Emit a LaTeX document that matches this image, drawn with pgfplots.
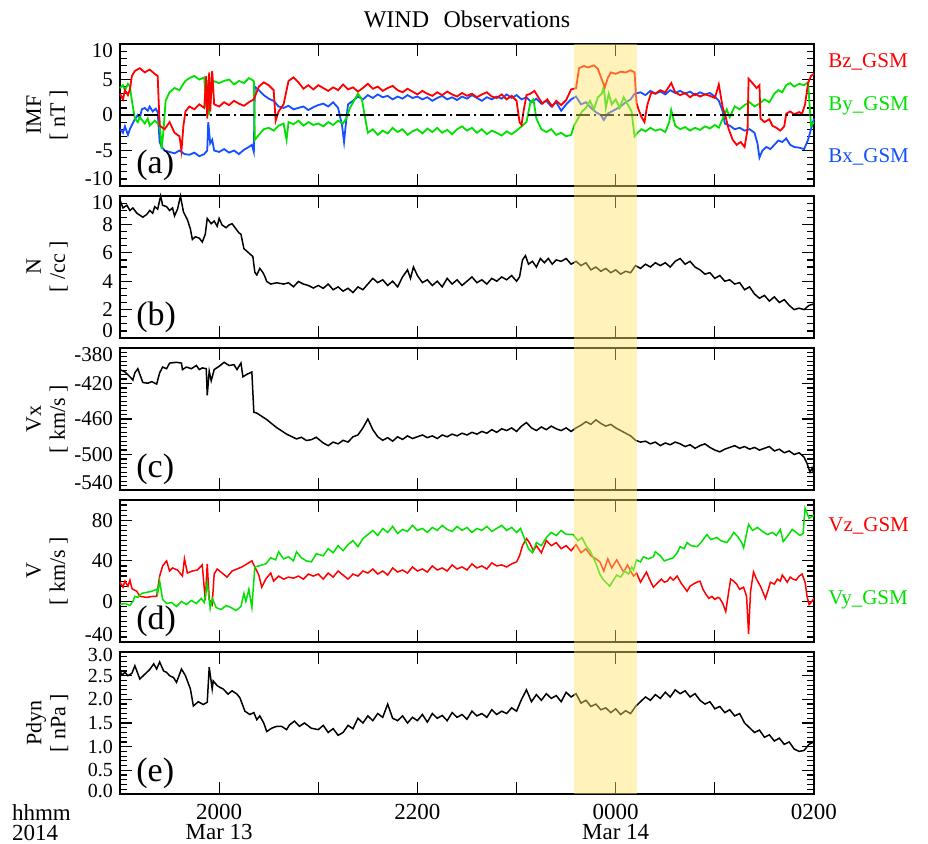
\documentclass[border=0pt]{standalone}
\usepackage{fontspec}
\setmainfont{Liberation Serif}
\usepackage{pgfplots}
\pgfplotsset{compat=1.18}
\definecolor{cred}{RGB}{255,0,0}
\definecolor{cgreen}{RGB}{0,225,0}
\definecolor{cblue}{RGB}{20,80,255}
\definecolor{bandcol}{RGB}{255,226,105}
\newcommand{\up}[1]{\raisebox{3.5pt}[\height][\depth]{#1}}
\newcommand{\dn}[1]{\raisebox{-3.5pt}[\height][\depth]{#1}}
\newcommand{\upe}[1]{\raisebox{1.5pt}[\height][\depth]{#1}}
\newcommand{\dne}[1]{\raisebox{-1.5pt}[\height][\depth]{#1}}
\pgfplotsset{
  panel/.style={
    scale only axis, width=347pt, height=71pt,
    xmin=19, xmax=26,
    xtick={19,...,26}, xticklabels={},
    major tick length=6pt, minor tick length=3.5pt,
    every tick/.style={black, line width=0.6pt},
    axis line style={line width=0.9pt},
    tick label style={font=\fontsize{10.5}{10.5}\selectfont},
    ylabel style={at={(axis description cs:-0.105,0.5)}, anchor=center, align=center, font=\fontsize{11}{12}\selectfont},
    anchor=north west,
    clip=false,
    every axis plot/.append style={line width=0.75pt},
  },
}
\tikzset{
  plab/.style={anchor=south west, font=\fontsize{17}{17}\selectfont, inner sep=0pt, xshift=8pt, yshift=2.5pt},
  rlab/.style={anchor=west, font=\fontsize{10.5}{10.5}\selectfont, inner sep=0pt, xshift=7pt},
}
\begin{document}
\begin{tikzpicture}
\useasboundingbox (-60pt,22pt) rectangle (404pt,-399.5pt);
% ---------------- (a) IMF
\begin{axis}[panel, at={(0pt,0pt)}, ymin=-10, ymax=10, ytick={-10,-5,0,5,10}, yticklabels={{\up{-10}},-5,0,5,{\dn{10}}}, minor y tick num=4, ylabel={IMF\\{[} nT ]}, every axis plot/.append style={line width=0.9pt}]
\addplot[cblue] coordinates {
(19.00,-2.0)(19.03,-2.5)(19.05,-1.6)(19.08,-2.8)(19.10,-2.0)(19.12,-1.4)(19.15,-0.6)(19.18,0.0)(19.20,-0.4)(19.22,0.8)(19.25,1.0)(19.28,0.6)(19.30,1.2)(19.33,0.5)(19.36,0.9)(19.38,0.4)(19.40,-3.8)(19.42,-4.5)(19.45,-5.0)(19.50,-5.2)(19.55,-5.4)(19.60,-5.0)(19.65,-5.5)(19.70,-5.6)(19.75,-5.3)(19.80,-5.8)(19.85,-5.5)(19.88,-5.0)(19.89,-1.0)(19.91,-4.0)(19.93,-3.5)(19.95,-5.0)(20.00,-5.2)(20.05,-4.8)(20.10,-5.3)(20.15,-5.0)(20.20,-5.5)(20.25,-4.9)(20.30,-4.5)(20.33,-4.2)(20.35,-5.2)(20.36,4.0)(20.40,3.5)(20.45,2.8)(20.50,2.3)(20.55,2.0)(20.60,1.2)(20.65,1.0)(20.70,1.3)(20.75,0.8)(20.80,1.0)(20.85,1.2)(20.90,0.7)(20.95,1.1)(21.00,1.4)
(21.05,1.6)(21.10,1.2)(21.15,1.8)(21.20,1.0)(21.24,-1.5)(21.26,-3.8)(21.28,-1.0)(21.30,1.5)(21.35,2.0)(21.40,2.6)(21.45,2.2)(21.50,2.8)(21.55,2.4)(21.60,2.9)(21.65,2.5)(21.70,2.7)(21.75,2.2)(21.80,2.6)(21.85,2.3)(21.90,2.8)(21.95,2.4)(22.00,2.6)(22.05,2.2)(22.10,2.5)(22.15,2.0)(22.20,2.4)(22.25,2.7)(22.30,2.2)(22.35,2.5)(22.40,2.1)(22.45,2.6)(22.50,2.3)(22.55,2.8)(22.60,2.4)(22.65,2.0)(22.70,2.5)(22.75,2.2)(22.80,2.6)(22.85,2.3)(22.90,2.9)(22.95,2.4)(23.00,2.8)(23.05,2.2)(23.10,2.5)(23.15,1.8)(23.20,2.3)(23.25,1.6)(23.30,2.0)(23.35,1.2)(23.40,1.8)(23.45,0.6)(23.50,1.5)(23.55,2.2)(23.60,2.6)(23.65,1.5)(23.70,1.8)(23.75,1.0)(23.80,0.4)(23.85,0.0)(23.88,-0.7)(23.92,0.2)(23.96,0.5)(24.00,0.8)(24.05,1.2)(24.10,1.8)(24.15,2.2)(24.19,3.0)(24.25,3.2)(24.30,2.8)(24.35,3.4)(24.40,3.0)(24.45,3.3)(24.50,2.9)(24.55,3.5)(24.60,3.1)(24.65,3.4)(24.70,3.0)(24.75,3.3)(24.80,2.8)(24.85,3.2)(24.90,2.9)(24.95,3.1)(25.00,2.6)(25.04,2.0)(25.08,0.5)(25.10,-1.2)(25.15,-1.5)(25.20,-2.0)(25.25,-1.8)(25.30,-2.2)(25.35,-2.0)(25.40,-2.5)(25.43,-4.0)(25.45,-6.0)(25.48,-5.0)(25.52,-4.5)(25.56,-4.8)(25.60,-4.2)(25.64,-3.6)(25.68,-3.8)(25.72,-3.3)(25.76,-4.2)(25.80,-4.5)(25.85,-4.6)(25.90,-4.8)(25.94,-3.5)(25.97,-2.0)(26.00,-0.5)
};
\addplot[cgreen] coordinates {
(19.00,3.8)(19.03,4.2)(19.05,3.5)(19.08,4.4)(19.10,4.0)(19.12,2.0)(19.15,-0.5)(19.18,-1.0)(19.20,-0.3)(19.25,-1.2)(19.28,-0.5)(19.30,-1.5)(19.35,-0.8)(19.38,-1.2)(19.40,-1.0)(19.42,-4.8)(19.44,-2.0)(19.46,2.0)(19.50,3.2)(19.55,3.8)(19.60,3.5)(19.63,4.2)(19.66,4.8)(19.70,5.2)(19.75,5.5)(19.80,5.0)(19.85,5.3)(19.87,1.0)(19.89,4.5)(19.90,0.0)(19.92,3.0)(19.94,4.8)(20.00,4.5)(20.05,4.8)(20.10,5.0)(20.15,4.3)(20.20,4.8)(20.25,4.5)(20.30,5.2)(20.35,4.8)(20.36,-3.5)(20.40,-2.8)(20.45,-2.0)(20.50,-1.8)(20.55,-2.2)(20.60,-1.5)(20.65,-1.2)(20.68,-3.5)(20.70,-1.0)(20.75,-1.3)(20.80,-0.8)(20.85,-1.5)(20.90,-1.0)(20.95,-1.4)(21.00,-1.2)
(21.05,-1.6)(21.10,-1.0)(21.15,-1.4)(21.20,-0.8)(21.25,-1.2)(21.28,-0.5)(21.32,1.0)(21.36,2.0)(21.40,3.0)(21.44,2.2)(21.48,-1.0)(21.50,-2.5)(21.55,-2.0)(21.60,-2.8)(21.65,-2.2)(21.70,-2.6)(21.75,-1.8)(21.80,-2.4)(21.85,-2.0)(21.90,-2.8)(21.95,-2.3)(22.00,-2.0)(22.05,-2.6)(22.10,-1.9)(22.15,-2.4)(22.20,-1.8)(22.25,-2.5)(22.30,-2.1)(22.35,-2.7)(22.40,-2.0)(22.45,-1.6)(22.50,-2.2)(22.55,-1.8)(22.60,-2.5)(22.65,-2.0)(22.70,-2.7)(22.75,-2.2)(22.80,-2.5)(22.85,-2.9)(22.90,-2.3)(22.95,-2.7)(23.00,-2.2)(23.05,-1.6)(23.10,-1.0)(23.14,1.8)(23.17,2.2)(23.20,-0.5)(23.25,-2.0)(23.30,-2.4)(23.35,-2.0)(23.40,-2.8)(23.45,-2.5)(23.50,-3.0)(23.55,-2.8)(23.58,-1.5)(23.62,-0.5)(23.66,0.5)(23.70,1.0)(23.74,2.0)(23.78,0.8)(23.82,2.5)(23.86,3.0)(23.88,4.0)(23.90,1.0)(23.93,3.0)(23.96,1.5)(24.00,2.2)(24.04,1.0)(24.08,2.5)(24.12,1.5)(24.16,0.5)(24.19,-3.0)(24.22,-2.5)(24.26,-2.0)(24.30,-2.3)(24.35,-1.8)(24.40,-2.2)(24.45,-2.0)(24.50,-2.4)(24.54,-1.0)(24.56,0.7)(24.60,-1.5)(24.65,-2.0)(24.70,-1.7)(24.75,-2.2)(24.80,-1.8)(24.85,-2.1)(24.90,-1.6)(24.95,-1.9)(25.00,-1.4)(25.04,-1.8)(25.08,-0.5)(25.12,0.8)(25.15,-0.3)(25.20,1.2)(25.25,0.8)(25.30,1.4)(25.35,1.8)(25.40,1.2)(25.45,1.6)(25.50,2.2)(25.55,1.8)(25.60,3.0)(25.64,3.5)(25.68,3.2)(25.72,4.2)(25.76,4.5)(25.80,4.0)(25.85,4.4)(25.90,4.2)(25.94,4.6)(25.97,-1.5)(26.00,-1.0)
};
\addplot[cred] coordinates {
(19.00,3.0)(19.03,2.2)(19.05,3.5)(19.08,2.8)(19.10,3.6)(19.12,5.5)(19.15,6.2)(19.20,6.6)(19.25,6.0)(19.30,6.4)(19.35,5.8)(19.38,5.5)(19.40,-1.5)(19.45,-2.0)(19.50,-1.0)(19.55,-2.5)(19.60,-3.0)(19.62,-5.0)(19.64,-1.5)(19.66,0.5)(19.70,1.2)(19.75,0.8)(19.80,1.5)(19.85,1.0)(19.87,5.5)(19.88,-0.5)(19.90,6.0)(19.91,0.5)(19.93,6.2)(19.95,1.5)(20.00,1.2)(20.05,1.8)(20.10,1.4)(20.15,2.0)(20.20,1.6)(20.25,1.3)(20.30,1.8)(20.35,2.2)(20.40,4.0)(20.45,4.6)(20.50,4.2)(20.55,3.5)(20.57,-0.8)(20.60,0.5)(20.65,1.5)(20.70,4.8)(20.75,5.3)(20.80,4.6)(20.85,3.7)(20.90,4.2)(20.95,3.6)(21.00,4.2)(21.05,3.8)(21.10,3.4)(21.15,3.9)(21.20,3.5)
(21.25,4.3)(21.30,3.6)(21.35,3.9)(21.40,3.3)(21.45,3.8)(21.50,4.4)(21.55,3.7)(21.60,4.0)(21.65,3.4)(21.70,3.8)(21.75,4.1)(21.80,3.5)(21.85,3.2)(21.90,3.7)(21.95,3.3)(22.00,2.9)(22.05,3.4)(22.10,3.0)(22.15,2.7)(22.20,3.2)(22.25,2.8)(22.30,3.3)(22.35,2.9)(22.40,2.6)(22.45,3.1)(22.50,2.7)(22.55,3.0)(22.60,2.5)(22.65,2.9)(22.70,3.2)(22.75,2.6)(22.80,2.4)(22.85,2.9)(22.90,2.2)(22.95,2.7)(23.00,2.0)(23.03,-1.0)(23.05,-1.4)(23.07,0.5)(23.10,2.8)(23.14,3.0)(23.18,3.4)(23.22,2.5)(23.26,1.6)(23.31,2.2)(23.36,1.2)(23.40,2.0)(23.45,1.4)(23.50,2.1)(23.55,3.6)(23.60,3.8)(23.63,6.6)(23.68,6.9)(23.72,6.7)(23.78,7.0)(23.82,6.5)(23.86,5.0)(23.89,3.9)(23.92,5.2)(23.95,6.0)(24.00,5.8)(24.05,6.1)(24.10,6.0)(24.15,6.3)(24.19,6.0)(24.21,1.7)(24.23,0.8)(24.26,-0.3)(24.29,-1.0)(24.32,1.5)(24.36,3.2)(24.40,3.0)(24.45,3.5)(24.50,3.2)(24.56,4.5)(24.60,3.2)(24.65,2.8)(24.70,3.1)(24.75,2.5)(24.80,3.0)(24.85,2.6)(24.90,2.9)(24.95,2.7)(25.00,2.4)(25.04,4.3)(25.08,1.0)(25.10,0.2)(25.14,-2.0)(25.18,-3.5)(25.22,-4.2)(25.26,-3.8)(25.30,-4.5)(25.33,-2.0)(25.34,5.1)(25.38,4.5)(25.42,3.8)(25.45,4.2)(25.46,-0.5)(25.50,-1.0)(25.55,-0.6)(25.58,-1.5)(25.62,-1.8)(25.66,-2.2)(25.70,-1.6)(25.72,0.2)(25.76,0.5)(25.80,0.1)(25.85,0.4)(25.88,0.2)(25.91,1.5)(25.94,4.5)(25.97,5.5)(26.00,5.8)
};
\addplot[black, line width=0.7pt, dash pattern=on 7pt off 2pt on 1pt off 2pt] coordinates {(19,0)(26,0)};
\coordinate (bandtl) at (axis cs:23.58,10);
\node[anchor=base, font=\fontsize{12}{12}\selectfont] at (rel axis cs:0.5,1) [yshift=8.5pt] {WIND\hspace{0.6em}Observations};
\node[plab] at (rel axis cs:0,0) {(a)};
\node[rlab, text=cred] at (rel axis cs:1,0.873) {Bz\_GSM};
\node[rlab, text=cgreen] at (rel axis cs:1,0.563) {By\_GSM};
\node[rlab, text=cblue] at (rel axis cs:1,0.204) {Bx\_GSM};
\end{axis}
% ---------------- (b) N
\begin{axis}[panel, at={(0pt,-76pt)}, ymin=0, ymax=10, ytick={0,2,4,6,8,10}, yticklabels={{\up{0}},2,4,6,8,{\dn{10}}}, minor y tick num=3, ylabel={N\\{[} /cc ]}]
\addplot[black] coordinates {
(19.00,9.72)(19.03,9.16)(19.07,9.35)(19.10,8.98)(19.13,9.16)(19.17,8.79)(19.23,8.51)(19.27,8.70)(19.30,8.98)(19.33,8.79)(19.35,9.25)(19.38,9.07)(19.41,10.0)(19.43,9.35)(19.47,9.25)(19.50,8.98)(19.53,9.16)(19.55,8.60)(19.58,9.07)(19.61,10.0)(19.64,8.88)(19.68,8.33)(19.71,7.68)(19.73,6.94)(19.76,7.13)(19.80,7.03)(19.83,6.76)(19.86,7.31)(19.88,8.42)(19.92,8.05)(19.95,8.24)(19.98,7.87)(20.00,8.42)(20.03,7.96)(20.07,7.77)(20.10,7.96)(20.13,8.05)(20.17,7.68)(20.20,7.40)(20.22,7.31)(20.25,6.29)(20.28,6.11)(20.31,5.92)(20.34,5.74)(20.36,4.63)(20.38,4.44)(20.41,4.90)(20.44,4.63)(20.46,4.35)(20.48,3.98)(20.52,3.80)(20.58,3.89)(20.65,3.80)(20.70,3.89)(20.75,3.61)(20.80,3.98)(20.85,3.80)(20.90,3.70)(20.95,3.52)(21.00,3.7)
(21.05,3.5)(21.10,3.8)(21.15,3.4)(21.20,3.6)(21.25,3.3)(21.30,3.5)(21.35,3.2)(21.40,3.6)(21.45,3.4)(21.50,3.8)(21.55,4.2)(21.60,3.9)(21.65,4.1)(21.70,3.7)(21.75,4.0)(21.80,3.6)(21.85,4.3)(21.90,4.8)(21.93,4.2)(21.96,5.0)(22.00,4.4)(22.05,3.9)(22.10,4.1)(22.15,3.7)(22.20,4.0)(22.25,3.6)(22.30,4.2)(22.35,3.8)(22.40,4.1)(22.45,3.7)(22.50,4.0)(22.55,4.3)(22.60,3.9)(22.65,4.1)(22.70,3.8)(22.75,4.2)(22.80,4.0)(22.85,4.3)(22.90,4.1)(22.95,4.4)(23.00,4.0)(23.03,4.3)(23.06,5.5)(23.09,5.8)(23.12,5.2)(23.16,5.4)(23.20,5.0)(23.24,5.6)(23.28,5.3)(23.32,5.6)(23.36,5.2)(23.40,5.5)(23.45,5.4)(23.50,5.6)(23.55,5.2)(23.60,5.4)(23.65,5.1)(23.70,5.3)(23.75,4.8)(23.80,5.0)(23.85,4.7)(23.90,4.9)(23.95,4.6)(24.00,4.8)(24.05,4.5)(24.10,4.7)(24.15,4.6)(24.20,5.1)(24.25,4.9)(24.30,5.2)(24.35,5.0)(24.40,5.3)(24.45,5.1)(24.50,5.3)(24.55,5.0)(24.60,5.4)(24.65,5.6)(24.70,5.2)(24.75,5.4)(24.80,5.0)(24.85,4.8)(24.90,4.5)(24.95,4.6)(25.00,4.2)(25.05,4.4)(25.10,4.0)(25.15,4.1)(25.20,3.8)(25.25,3.9)(25.30,3.4)(25.35,3.6)(25.40,3.1)(25.45,2.8)(25.50,3.0)(25.55,2.6)(25.60,2.9)(25.65,2.5)(25.70,2.7)(25.75,2.3)(25.80,2.0)(25.85,2.1)(25.90,2.0)(25.95,2.3)(26.00,2.4)
};
\node[plab] at (rel axis cs:0,0) {(b)};
\end{axis}
% ---------------- (c) Vx
\begin{axis}[panel, at={(0pt,-152pt)}, ymin=-540, ymax=-380, ytick={-540,-500,-460,-420,-380}, yticklabels={{\up{-540}},-500,-460,-420,{\dn{-380}}}, minor y tick num=7, ylabel={Vx\\{[} km/s ]}]
\addplot[black] coordinates {
(19.00,-404.3)(19.05,-407.0)(19.10,-412.4)(19.13,-416.1)(19.15,-407.9)(19.18,-403.3)(19.20,-409.7)(19.23,-418.8)(19.28,-419.7)(19.32,-417.9)(19.37,-420.6)(19.40,-407.9)(19.43,-401.5)(19.47,-403.3)(19.50,-397.0)(19.57,-396.1)(19.62,-397.0)(19.63,-404.3)(19.67,-401.5)(19.72,-403.3)(19.77,-399.7)(19.80,-404.3)(19.83,-402.4)(19.87,-403.3)(19.88,-433.3)(19.90,-406.1)(19.92,-417.0)(19.95,-404.3)(20.00,-400.6)(20.05,-396.1)(20.10,-399.7)(20.15,-398.8)(20.18,-404.3)(20.22,-397.0)(20.24,-412.4)(20.28,-409.7)(20.33,-407.0)(20.35,-452.4)(20.38,-453.3)(20.43,-457.0)(20.48,-460.6)(20.53,-465.2)(20.58,-469.7)(20.63,-473.3)(20.68,-477.0)(20.73,-479.7)(20.78,-482.4)(20.83,-480.6)(20.88,-484.2)(20.93,-483.3)(20.98,-480.6)
(21.05,-487)(21.10,-490)(21.15,-486)(21.20,-488)(21.25,-484)(21.30,-486)(21.35,-480)(21.40,-478)(21.45,-470)(21.50,-460)(21.55,-472)(21.60,-480)(21.65,-484)(21.70,-481)(21.75,-485)(21.80,-480)(21.85,-483)(21.90,-479)(21.95,-482)(22.00,-480)(22.05,-478)(22.10,-481)(22.15,-479)(22.20,-482)(22.25,-478)(22.30,-480)(22.35,-477)(22.40,-479)(22.45,-476)(22.50,-478)(22.55,-475)(22.60,-477)(22.65,-474)(22.70,-476)(22.75,-472)(22.80,-475)(22.85,-471)(22.90,-473)(22.95,-470)(23.00,-474)(23.05,-468)(23.10,-464)(23.15,-470)(23.20,-473)(23.25,-469)(23.30,-472)(23.35,-468)(23.40,-471)(23.45,-473)(23.50,-470)(23.55,-474)(23.60,-470)(23.65,-467)(23.70,-463)(23.75,-466)(23.80,-461)(23.85,-465)(23.90,-468)(23.95,-466)(24.00,-470)(24.05,-473)(24.10,-476)(24.15,-479)(24.20,-484)(24.25,-486)(24.30,-485)(24.35,-488)(24.40,-486)(24.45,-490)(24.50,-487)(24.55,-489)(24.60,-486)(24.65,-488)(24.70,-491)(24.75,-489)(24.80,-493)(24.85,-490)(24.90,-488)(24.95,-492)(25.00,-495)(25.05,-497)(25.10,-494)(25.15,-492)(25.20,-490)(25.25,-493)(25.30,-491)(25.35,-494)(25.40,-492)(25.45,-495)(25.50,-493)(25.55,-491)(25.60,-496)(25.65,-494)(25.70,-498)(25.75,-496)(25.80,-500)(25.85,-498)(25.90,-503)(25.93,-510)(25.96,-520)(25.98,-515)(26.00,-523)
};
\node[plab] at (rel axis cs:0,0) {(c)};
\end{axis}
% ---------------- (d) V
\begin{axis}[panel, at={(0pt,-228pt)}, ymin=-40, ymax=100, ytick={-40,0,40,80}, yticklabels={{\up{-40}},0,40,80}, minor ytick={-35,-30,...,100}, ylabel={V\\{[} km/s ]}]
\addplot[cred] coordinates {
(19.00,19)(19.03,14)(19.05,20)(19.08,15)(19.10,21)(19.12,13)(19.13,12)(19.17,10)(19.20,5)(19.27,4)(19.33,5)(19.37,5)(19.40,25)(19.43,35)(19.47,40)(19.50,30)(19.53,33)(19.58,31)(19.63,25)(19.65,42)(19.68,28)(19.73,30)(19.78,31)(19.83,36)(19.86,1)(19.88,37)(19.90,2)(19.93,-3)(19.95,27)(19.98,32)(20.03,28)(20.08,24)(20.13,30)(20.18,32)(20.23,34)(20.28,37)(20.33,40)(20.36,34)(20.40,26)(20.43,14)(20.47,22)(20.52,28)(20.55,20)(20.60,25)(20.65,22)(20.70,24)(20.75,23)(20.80,25)(20.85,22)(20.90,27)(20.95,25)(21.00,27)
(21.05,22)(21.10,28)(21.15,24)(21.20,30)(21.25,26)(21.30,22)(21.35,27)(21.40,25)(21.45,30)(21.50,28)(21.55,32)(21.60,27)(21.65,30)(21.70,26)(21.75,33)(21.80,29)(21.85,31)(21.90,28)(21.95,34)(22.00,30)(22.05,32)(22.10,29)(22.15,35)(22.20,31)(22.25,33)(22.30,30)(22.35,36)(22.40,32)(22.45,34)(22.50,31)(22.55,37)(22.60,33)(22.65,35)(22.70,32)(22.75,38)(22.80,35)(22.85,36)(22.90,34)(22.95,37)(23.00,39)(23.03,45)(23.06,55)(23.10,62)(23.13,58)(23.17,50)(23.20,55)(23.25,48)(23.30,60)(23.35,55)(23.40,58)(23.45,52)(23.50,55)(23.55,50)(23.60,56)(23.65,48)(23.70,52)(23.75,45)(23.80,42)(23.84,39)(23.88,30)(23.92,42)(23.96,33)(24.01,41)(24.05,34)(24.08,29)(24.12,36)(24.15,30)(24.18,25)(24.21,28)(24.25,19)(24.28,24)(24.31,29)(24.34,22)(24.38,14)(24.42,18)(24.46,22)(24.49,19)(24.52,20)(24.55,24)(24.58,21)(24.62,25)(24.66,18)(24.69,14)(24.72,10)(24.75,15)(24.78,17)(24.82,19)(24.85,20)(24.88,12)(24.91,7)(24.94,3)(24.97,5)(25.00,2)(25.03,4)(25.05,3)(25.08,-2)(25.11,-10)(25.14,10)(25.16,22)(25.19,20)(25.22,17)(25.25,12)(25.29,14)(25.32,5)(25.34,-32)(25.36,10)(25.39,29)(25.42,22)(25.46,15)(25.49,8)(25.51,3)(25.54,12)(25.56,19)(25.60,17)(25.63,22)(25.66,20)(25.68,26)(25.71,22)(25.73,19)(25.76,24)(25.79,22)(25.82,21)(25.85,25)(25.88,27)(25.91,19)(25.93,5)(25.95,-3)(25.97,-1)(26.00,3)
};
\addplot[cgreen] coordinates {
(19.00,-3)(19.05,-2)(19.10,-4)(19.13,0)(19.15,5)(19.18,4)(19.22,8)(19.27,9)(19.32,10)(19.37,12)(19.38,8)(19.40,20)(19.43,2)(19.47,-2)(19.52,-1)(19.57,-5)(19.62,0)(19.67,-3)(19.72,1)(19.77,-2)(19.82,3)(19.85,-1)(19.88,18)(19.91,-7)(19.93,3)(19.97,-6)(20.02,-8)(20.07,-4)(20.12,-6)(20.17,-9)(20.22,-5)(20.25,8)(20.27,0)(20.30,12)(20.33,-6)(20.36,34)(20.40,35)(20.47,37)(20.52,43)(20.57,41)(20.60,49)(20.65,42)(20.70,44)(20.75,40)(20.78,49)(20.83,43)(20.88,40)(20.93,39)(20.98,47)
(21.05,45)(21.10,52)(21.15,48)(21.20,55)(21.25,50)(21.30,56)(21.35,60)(21.40,54)(21.45,62)(21.50,66)(21.55,70)(21.60,65)(21.65,72)(21.70,68)(21.75,74)(21.80,67)(21.85,71)(21.90,69)(21.95,75)(22.00,70)(22.05,72)(22.10,68)(22.15,73)(22.20,70)(22.25,75)(22.30,71)(22.35,69)(22.40,74)(22.45,70)(22.50,73)(22.55,68)(22.60,72)(22.65,70)(22.70,74)(22.75,69)(22.80,72)(22.85,75)(22.90,70)(22.95,73)(23.00,68)(23.04,72)(23.08,62)(23.12,52)(23.16,48)(23.20,58)(23.25,55)(23.30,63)(23.35,68)(23.40,65)(23.45,70)(23.50,66)(23.57,66)(23.62,60)(23.66,63)(23.70,55)(23.74,50)(23.78,42)(23.81,35)(23.84,27)(23.87,22)(23.91,18)(23.94,15)(23.97,20)(24.01,26)(24.05,24)(24.09,30)(24.13,27)(24.16,34)(24.18,31)(24.21,41)(24.25,39)(24.28,44)(24.33,42)(24.38,44)(24.40,49)(24.45,45)(24.49,40)(24.52,41)(24.58,43)(24.62,48)(24.65,54)(24.69,52)(24.72,58)(24.76,55)(24.82,54)(24.86,58)(24.89,62)(24.92,66)(24.96,61)(25.02,63)(25.06,60)(25.12,58)(25.16,63)(25.19,68)(25.23,64)(25.27,58)(25.29,53)(25.34,76)(25.38,70)(25.43,73)(25.48,69)(25.53,66)(25.58,68)(25.62,65)(25.66,71)(25.69,59)(25.73,64)(25.78,71)(25.82,68)(25.86,65)(25.89,67)(25.91,92)(25.95,82)(26.00,85)
};
\node[plab] at (rel axis cs:0,0) {(d)};
\node[rlab, text=cred] at (rel axis cs:1,0.817) {Vz\_GSM};
\node[rlab, text=cgreen] at (rel axis cs:1,0.296) {Vy\_GSM};
\end{axis}
% ---------------- (e) Pdyn
\begin{axis}[panel, at={(0pt,-304pt)}, ymin=0, ymax=3, ytick={0,0.5,1,1.5,2,2.5,3}, yticklabels={{\upe{0.0}},0.5,1.0,1.5,2.0,2.5,{\dne{3.0}}}, minor y tick num=4, ylabel={Pdyn\\{[} nPa ]},
  tick label style={font=\fontsize{10}{10}\selectfont},
  xticklabels={,2000\\Mar 13,,2200,,0000\\Mar 14,,0200},
  xticklabel style={align=center, font=\fontsize{11.5}{10}\selectfont, yshift=-1.5pt}]
\addplot[black] coordinates {
(19.00,2.60)(19.02,2.51)(19.05,2.57)(19.08,2.50)(19.12,2.55)(19.15,2.71)(19.20,2.43)(19.24,2.51)(19.27,2.57)(19.30,2.63)(19.34,2.75)(19.37,2.64)(19.40,2.79)(19.44,2.60)(19.47,2.57)(19.50,2.50)(19.54,2.46)(19.57,2.36)(19.62,2.64)(19.66,2.50)(19.71,2.22)(19.74,1.86)(19.79,1.95)(19.84,1.89)(19.88,1.94)(19.90,2.68)(19.93,2.22)(19.94,2.39)(19.98,2.29)(20.01,2.25)(20.04,2.22)(20.09,2.11)(20.13,2.18)(20.18,2.11)(20.21,2.03)(20.26,1.75)(20.31,1.68)(20.35,1.72)(20.38,1.57)(20.41,1.65)(20.45,1.50)(20.48,1.32)(20.53,1.39)(20.58,1.43)(20.63,1.43)(20.68,1.36)(20.71,1.46)(20.76,1.54)(20.81,1.43)(20.86,1.50)(20.93,1.39)(21.00,1.36)
(21.05,1.45)(21.10,1.30)(21.15,1.38)(21.20,1.24)(21.25,1.30)(21.30,1.45)(21.35,1.38)(21.40,1.60)(21.45,1.50)(21.50,1.65)(21.55,1.55)(21.60,1.70)(21.65,1.62)(21.70,1.90)(21.75,1.60)(21.80,1.55)(21.85,1.65)(21.90,1.50)(21.95,1.62)(22.00,1.55)(22.05,1.68)(22.10,1.52)(22.15,1.70)(22.20,1.60)(22.25,1.66)(22.30,1.55)(22.35,1.72)(22.40,1.62)(22.45,1.68)(22.50,1.58)(22.55,1.75)(22.60,1.65)(22.65,1.70)(22.70,1.62)(22.75,1.78)(22.80,1.68)(22.85,1.75)(22.90,1.70)(22.95,1.82)(23.00,1.75)(23.05,2.00)(23.10,2.20)(23.15,1.95)(23.20,2.10)(23.25,1.98)(23.30,2.12)(23.35,2.02)(23.40,2.08)(23.45,1.95)(23.50,2.15)(23.55,2.05)(23.60,2.12)(23.65,1.92)(23.70,1.98)(23.75,1.85)(23.80,1.90)(23.85,1.78)(23.90,1.82)(23.95,1.72)(24.00,1.80)(24.05,1.68)(24.10,1.76)(24.15,1.70)(24.20,1.85)(24.25,1.95)(24.30,2.05)(24.35,1.98)(24.40,2.10)(24.45,2.02)(24.50,2.15)(24.55,2.05)(24.60,2.20)(24.65,2.12)(24.70,2.18)(24.75,2.05)(24.80,2.12)(24.85,1.98)(24.90,1.90)(24.95,1.95)(25.00,1.80)(25.05,1.85)(25.10,1.72)(25.15,1.78)(25.20,1.65)(25.25,1.70)(25.30,1.50)(25.35,1.40)(25.40,1.30)(25.45,1.35)(25.50,1.20)(25.55,1.25)(25.60,1.12)(25.65,1.18)(25.70,1.05)(25.75,1.10)(25.80,0.95)(25.85,0.90)(25.90,0.92)(25.95,1.05)(26.00,1.10)
};
\node[plab] at (rel axis cs:0,0) {(e)};
\node[anchor=north west, align=left, font=\fontsize{11.5}{10}\selectfont] at (rel axis cs:0,0) [xshift=-57.5pt, yshift=-1.5pt] {hhmm\\2014};
\coordinate (bandbr) at (axis cs:24.21,0);
\end{axis}
\fill[bandcol, opacity=0.45] (bandtl) rectangle (bandbr);
\end{tikzpicture}
\end{document}
